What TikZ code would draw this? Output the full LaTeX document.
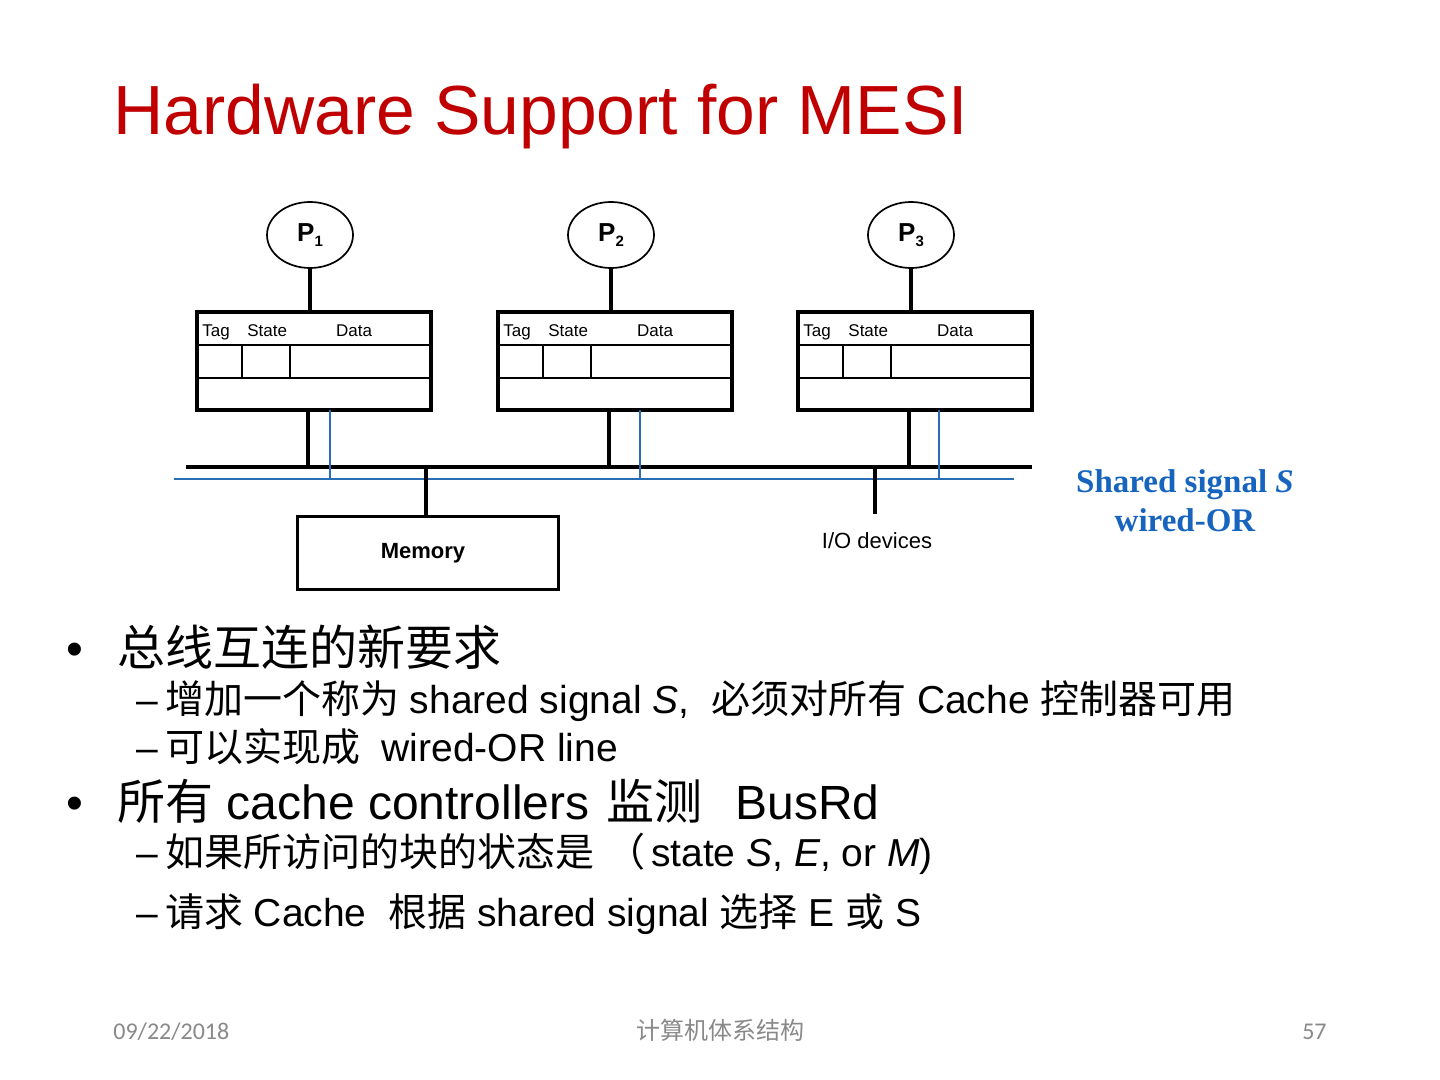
\documentclass[tikz,border=0pt]{standalone}
\usepackage{fontspec}
\setmainfont{Liberation Sans}
\newfontfamily\cjk{Noto Sans CJK SC}
\newfontfamily\cali{Carlito}
\newfontfamily\tnr{Liberation Serif}
\usetikzlibrary{shapes.geometric}
\definecolor{titlered}{RGB}{192,0,0}
\definecolor{sigblue}{RGB}{22,100,190}
\definecolor{lineblue}{RGB}{40,110,180}
\definecolor{footgray}{RGB}{137,137,137}
\newcommand{\zh}[1]{{\cjk #1}}
\newcommand{\dsh}{–\hspace{3.5pt}}
\begin{document}
\begin{tikzpicture}[x=0.5pt,y=-0.5pt,
  proc/.style={ellipse, draw, line width=0.85pt, minimum width=43pt, minimum height=33pt, inner sep=0pt, font=\bfseries\fontsize{13}{13}\selectfont},
  cachebox/.style={draw, line width=2.2pt, minimum width=117pt, minimum height=49pt, inner sep=0pt, outer sep=0pt, anchor=north west},
  thinline/.style={line width=0.75pt},
  pwire/.style={line width=1.6pt},
  wire/.style={line width=2pt},
  buswire/.style={line width=2.2pt},
  sig/.style={draw=lineblue, line width=0.75pt},
  hdr/.style={font=\fontsize{8.5}{8.5}\selectfont, inner sep=0pt},
  lvlone/.style={font=\fontsize{24}{24}\selectfont, anchor=base west, inner sep=0pt},
  lvltwo/.style={font=\fontsize{19.5}{19.5}\selectfont, anchor=base west, inner sep=0pt},
  foot/.style={font=\fontsize{12}{12}\selectfont, text=footgray, inner sep=0pt}
]
\fill[white] (0,0) rectangle (1440,1080);
\useasboundingbox (0,0) rectangle (1440,1080);

% title
\node[anchor=base west, inner sep=0pt, text=titlered, font=\fontsize{34.8}{34.8}\selectfont] (title) at (113,135) {Hardware Support for MESI};

% bus lines
\coordinate (busL) at (186,467);
\coordinate (busR) at (1032,467);
\coordinate (sigL) at (174,479);
\coordinate (sigR) at (1014,479);
\draw[buswire] (busL) -- (busR);
\draw[sig] (sigL) -- (sigR);

% processors and caches
\foreach \i/\L/\off in {1/197/133, 2/498/142, 3/798/141} {
  \node[cachebox] (c\i) at (\L,312) {};
  \draw[thinline] (\L,345) -- ++(234,0);
  \draw[thinline] (\L,378) -- ++(234,0);
  \draw[thinline] (\L+45,345) -- (\L+45,378);
  \draw[thinline] (\L+93,345) -- (\L+93,378);
  \node[hdr, anchor=base west] (tag\i) at (\L+5,337) {Tag};
  \node[hdr, anchor=base west] (st\i) at (\L+50,337) {State};
  \node[hdr, anchor=base] (da\i) at (\L+157,337) {Data};
  \node[proc] (p\i) at (\L+113,235) {P\raisebox{-0.35ex}{\fontsize{7.5}{7.5}\selectfont\bfseries\i}};
  \draw[pwire] (p\i.south) -- (p\i.south |- c\i.north);
  \coordinate (d\i) at (\L+111,467);
  \draw[wire] (c\i.south -| d\i) -- (d\i);
  \coordinate (s\i) at (\L+\off,479);
  \draw[sig] (c\i.south -| s\i) -- (s\i);
}

% memory
\node[draw, line width=1.5pt, minimum width=130.5pt, minimum height=36.5pt, inner sep=0pt, outer sep=0pt] (mem) at (427.5,552.5) {};
\node[font=\bfseries\fontsize{11}{11}\selectfont, inner sep=0pt] (memlbl) at (423,553) {Memory};
\coordinate (mtap) at (426,467);
\draw[wire] (mtap) -- (mem.north -| mtap);

% I/O
\coordinate (iotap) at (875,467);
\coordinate (ioend) at (875,514);
\draw[wire] (iotap) -- (ioend);
\node[font=\fontsize{11}{11}\selectfont, inner sep=0pt] (io) at (877,541) {I/O devices};

% shared signal label
\node[font=\tnr\bfseries\fontsize{16.5}{19.5}\selectfont, text=sigblue, align=center, inner sep=0pt] (sharedlbl) at (1185,501) {Shared signal \textit{S}\\wired-OR};

% bullets
\node[lvlone] (b1) at (66,665) {•};
\node[lvlone] (t1) at (117,665) {\zh{总线互连的新要求}};
\node[lvltwo] (t2) at (136,713) {\dsh\zh{增加一个称为} shared signal \textit{S},\ \ \zh{必须对所有} Cache \zh{控制器可用}};
\node[lvltwo] (t3) at (136,761) {\dsh\zh{可以实现成}\ \ wired-OR line};
\node[lvlone] (b2) at (66,819) {•};
\node[lvlone] (t4) at (117,819) {\zh{所有} cache controllers\ \hspace{2pt}\zh{监测}\ \ \hspace{3pt}BusRd};
\node[lvltwo] (t5) at (136,866) {\dsh\zh{如果所访问的块的状态是}\hspace{6pt}\zh{（}\hspace{3pt}state \textit{S}, \textit{E}, or \textit{M})};
\node[lvltwo] (t6) at (136,926) {\dsh\zh{请求} Cache\ \ \zh{根据} shared signal \zh{选择} E \zh{或} S};

% footer
\node[foot, anchor=base west, font=\cali\fontsize{12}{12}\selectfont] (date) at (113,1039) {09/22/2018};
\node[foot, anchor=base] (course) at (720,1039) {\zh{计算机体系结构}};
\node[foot, anchor=base east, font=\cali\fontsize{12}{12}\selectfont] (page) at (1327,1039) {57};
\end{tikzpicture}
\end{document}
